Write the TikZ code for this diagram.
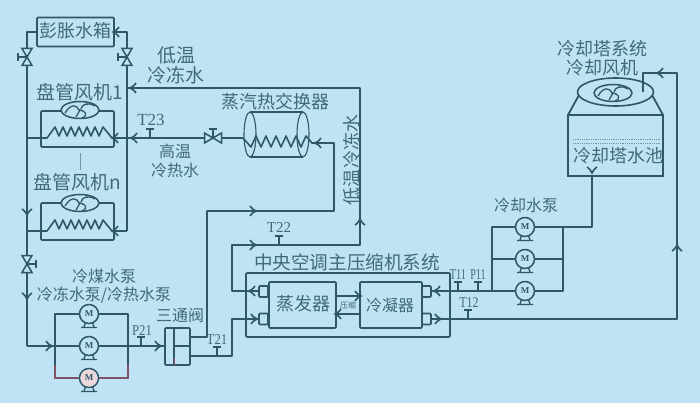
\documentclass[tikz,border=0pt]{standalone}
\usepackage{fontspec}
\usetikzlibrary{calc}
\setmainfont{Liberation Serif}
\newfontfamily\cjk{Noto Sans CJK SC}
\definecolor{bg}{HTML}{BFE3F5}
\definecolor{pipec}{HTML}{2E5866}
\definecolor{txtc}{HTML}{3F6A7A}
\definecolor{redc}{HTML}{A0505F}
\tikzset{
 pipe/.style={draw=pipec,line width=1.6pt,line join=round},
 box/.style={draw=pipec,line width=1.7pt,inner sep=0pt,rounded corners=1pt},
 lbl/.style={text=txtc,inner sep=0pt,font=\cjk},
 s19/.style={lbl,font=\cjk\fontsize{19}{19}\selectfont},
 s18/.style={lbl,font=\cjk\fontsize{18}{18}\selectfont},
 s16/.style={lbl,font=\cjk\fontsize{16}{16}\selectfont},
 tag/.style={text=txtc,inner sep=0pt,font=\fontsize{15}{15}\selectfont},
 chev/.pic={\draw[pipec,line width=1.6pt] (-3,-5) .. controls (-1,-2) and (1,-1) .. (3,0) .. controls (1,1) and (-1,2) .. (-3,5);},
 valve/.pic={\filldraw[pipec,fill=bg,line width=1.5pt] (-10,-5) -- (10,5) -- (10,-5) -- (-10,5) -- cycle;
   \draw[pipec,line width=1.5pt] (0,0) -- (0,-9) (-5,-9) -- (5,-9);},
 pump/.pic={\draw[pipec,line width=1.4pt] (-5,13) -- (-3,7) (5,13) -- (3,7) (-8,13.5) -- (8,13.5);
   \filldraw[pipec,fill=bg,line width=1.5pt] (0,0) circle (9.5);
   \node[text=pipec,inner sep=0pt,font=\bfseries\fontsize{9}{9}\selectfont] {M};},
 fan/.pic={\filldraw[pipec,fill=bg,line width=1.5pt] (0,0) ellipse (19 and 8.5);
   \draw[pipec,line width=1.3pt] (-15,3) .. controls (-9,-7) and (-3,-5) .. (-1,0)
      (15,-4) .. controls (8,-8) and (2,-6) .. (1,-1)
      (2,8) .. controls (9,5) and (5,1) .. (0,0) -- (-4,7);},
 tick/.pic={\draw[pipec,line width=1.2pt] (0,0) -- (0,-9) (-4,-9) -- (4,-9);}
}
\begin{document}
\begin{tikzpicture}[x=1pt,y=-1pt]
\useasboundingbox (0,0) rectangle (700,403);
\fill[bg] (0,0) rectangle (700,403);

% ---- expansion tank and left riser
\node[box,minimum width=77pt,minimum height=29pt] (tank) at (75.5,32) {};
\node[s18] at (75,31) {彭胀水箱};
\coordinate (tl) at (27,32); \coordinate (tr) at (127,32);
\coordinate (lb) at (27,346); \coordinate (rb) at (127,231);
\draw[pipe] (tank.west |- tl) -- (tl) -- (lb);
\draw[pipe] (tank.east |- tr) -- (tr) -- (rb);

% ---- fan coil units
\node[box,minimum width=73pt,minimum height=36pt] (coila) at (77.5,129) {};
\node[box,minimum width=73pt,minimum height=37pt] (coilb) at (77.5,221.5) {};
\foreach \y in {138,231}{
  \draw[pipe] (27,\y) -- (47,\y) -- (55,\y-11) -- (59,\y-2) -- (63,\y-11) -- (67,\y-2) -- (71,\y-11) -- (75,\y-2)
    -- (79,\y-11) -- (83,\y-2) -- (87,\y-11) -- (91,\y-2) -- (95,\y-11) -- (99,\y-2) -- (103,\y-11) -- (112,\y);
  \draw[pipe] (127,\y) -- (112,\y);
}
\path (80,110) pic {fan};
\path (80,203) pic {fan};
\draw[txtc!70,line width=.5pt] (80,153) -- (80,170);
\node[s19,anchor=west] at (36,92) {盘管风机1};
\node[s19,anchor=west] at (33,182) {盘管风机n};

% ---- valves on the left
\path (27,57) pic[rotate=90,xscale=.85] {valve};
\path (127,57) pic[rotate=90,xscale=.85] {valve};
\path (27,264) pic[rotate=-90,xscale=.85] {valve};

% ---- low-temperature line
\coordinate (c1) at (360,88);
\coordinate (c2) at (360,245);
\coordinate (c3) at (232,245);
\coordinate (c4) at (232,291);
\node[box,minimum width=9pt,minimum height=11pt] (es1) at (263.5,291.5) {};
\node[box,minimum width=9pt,minimum height=11pt] (es2) at (263.5,319) {};
\draw[pipe] (127,88) -- (c1) -- (c2) -- (c3) -- (c4) -- (es1.west |- c4);

% ---- heat exchanger
\coordinate (hx1) at (334,143);
\coordinate (hx2) at (334,211);
\coordinate (hx3) at (207,211);
\coordinate (hx4) at (207,337);
\draw[pipec,line width=1.4pt] (250,112) -- (303,112) (250,157) -- (303,157);
\draw[pipec,line width=1.1pt] (250,134.5) ellipse (6 and 22.5) (303,134.5) ellipse (6 and 22.5);
\draw[pipe] (127,138) -- (243,138) -- (251,147) -- (256,136) -- (261,147) -- (266,136) -- (271,147) -- (276,136) -- (281,147)
  -- (286,136) -- (291,147) -- (296,136) -- (301,147) -- (306,136) -- (312,143) -- (hx1) -- (hx2) -- (hx3) -- (hx4) -- (190,337);
\path (213,138) pic[xscale=.85] {valve};
\path (150,138) pic {tick};
\node[tag,font=\fontsize{17}{17}\selectfont] at (151,120) {T23};

% ---- compressor system
\node[box,minimum width=204pt,minimum height=64pt] (sys) at (348,305) {};
\node[box,minimum width=67pt,minimum height=46pt] (evap) at (302.5,305) {};
\node[box,minimum width=62pt,minimum height=46pt] (cond) at (391,305) {};
\node[box,minimum width=9pt,minimum height=11pt] (cs1) at (426.5,291.5) {};
\node[box,minimum width=9pt,minimum height=11pt] (cs2) at (426.5,319) {};
\node[lbl,font=\cjk\fontsize{18.6}{19}\selectfont] at (347,262) {中央空调主压缩机系统};
\node[s18] at (303,304) {蒸发器};
\node[s16] at (390,305) {冷凝器};
\draw[pipe] (evap.east |- 0,296) -- (cond.west |- 0,296);
\draw[pipe] (evap.east |- 0,314) -- (cond.west |- 0,314);
\node[lbl,font=\cjk\fontsize{8}{8}\selectfont] at (348,305) {压缩};

% ---- cold water from valve to evaporator
\coordinate (v1) at (232,356); \coordinate (v2) at (232,319);
\draw[pipe] (190,356) -- (v1) -- (v2) -- (es2.west |- v2);
\path (217,356) pic {tick};
\node[tag] at (217,340) {\scalebox{.85}[1]{T21}};
\path (279,245) pic {tick};
\node[tag] at (279,228) {T22};

% ---- chilled water pumps
\node[minimum size=19pt,inner sep=0pt] (p1) at (89,314) {};
\node[minimum size=19pt,inner sep=0pt] (p2) at (89,346) {};
\node[minimum size=19pt,inner sep=0pt] (p3) at (89,378) {};
\draw[pipe] (lb) -- (165,346);
\draw[pipe] (55,314) rectangle (128,378);
\draw[redc,line width=1.1pt,opacity=.7] (55,365) -- (55,378) -- (128,378) -- (128,365);
\path (p1) pic {pump}; \path (p2) pic {pump}; \path (p3) pic {pump};
\fill[redc!22!white] (p3) circle (8.5);
\node[text=pipec,inner sep=0pt,font=\bfseries\fontsize{9}{9}\selectfont] at (p3) {M};
\path (141,346) pic {tick};
\node[tag] at (142,331) {\scalebox{.85}[1]{P21}};
\node[s16] at (104,276) {冷煤水泵};
\node[s16] at (104,295) {冷冻水泵/冷热水泵};
\node[s16] at (180,316) {三通阀};

% ---- three-way valve
\node[box,fill=bg,minimum width=25pt,minimum height=37pt] (tw) at (177.5,346.5) {};
\draw[pipec,line width=1.3pt] (174,328) -- (174,365) (174,346) -- (190,346);
\draw[redc,line width=1pt] (174,358) -- (174,365);

% ---- condenser water
\coordinate (k1) at (492,291); \coordinate (k2) at (492,227);
\coordinate (k3) at (563,227); \coordinate (k4) at (563,291);
\coordinate (k5) at (592,227); \coordinate (k6) at (592,176);
\coordinate (r1) at (677,319); \coordinate (r2) at (677,73);
\coordinate (r3) at (643,73); \coordinate (r4) at (643,92);
\draw[pipe] (cs1.east |- k1) -- (k1) -- (k2) -- (k3) -- (k4) -- (k1);
\draw[pipe] (k1 |- 0,259) -- (k3 |- 0,259);
\draw[pipe] (k3) -- (k5) -- (k6);
\draw[pipe] (cs2.east |- r1) -- (r1) -- (r2) -- (r3) -- (r4);
\path (525,227) pic {pump}; \path (525,259) pic {pump}; \path (525,291) pic {pump};
\path (458,291) pic {tick}; \path (478,291) pic {tick}; \path (468,319) pic {tick};
\node[tag] at (458,275) {\scalebox{.68}[1]{T11}};
\node[tag] at (478,275) {\scalebox{.68}[1]{P11}};
\node[tag] at (469,303) {\scalebox{.8}[1]{T12}};
\node[s16] at (526,205) {冷却水泵};

% ---- cooling tower
\draw[pipec,line width=1.8pt] (568,115) rectangle (663,176);
\draw[pipec,line width=1.8pt] (568,115) -- (579,95) (663,115) -- (652,95);
\draw[pipec,line width=1.6pt] (615.5,92) ellipse (38 and 14);
\path (613,93) pic {fan};
\draw[pipe] (r3) -- (r4);
\foreach \y in {139,143}\draw[txtc!70,line width=.8pt,densely dotted] (573,\y) -- (660,\y);
\node[s18] at (618,156) {冷却塔水池};
\node[s18] at (602,49) {冷却塔系统};
\node[s18] at (602,68) {冷却风机};

% ---- labels
\node[s19] at (176,55) {低温};
\node[s19] at (176,75) {冷冻水};
\node[s16] at (175,151) {高温};
\node[s16] at (175,170) {冷热水};
\node[s18] at (275,102) {蒸汽热交换器};
\node[s18,rotate=90] at (352,160) {低温冷冻水};

% ---- arrowheads
\path (133,88) pic[rotate=180] {chev};
\path (134,138) pic[rotate=180] {chev};
\path (115,138) pic[rotate=180] {chev};
\path (115,231) pic[rotate=180] {chev};
\path (116,32) pic[rotate=180] {chev};
\path (27,212) pic[rotate=-90] {chev};
\path (27,296) pic[rotate=-90] {chev};
\path (49,346) pic {chev};
\path (158,346) pic {chev};
\path (318,143) pic[rotate=180] {chev};
\path (253,211) pic {chev};
\path (360,222) pic[rotate=90] {chev};
\path (253,245) pic {chev};
\path (252,291) pic[rotate=180] {chev};
\path (254,319) pic {chev};
\path (358,296) pic {chev};
\path (338,314) pic[rotate=180] {chev};
\path (437,291) pic[rotate=180] {chev};
\path (438,319) pic {chev};
\path (592,170) pic[rotate=-90] {chev};
\path (677,248) pic[rotate=90] {chev};
\path (660,73) pic[rotate=180] {chev};
\end{tikzpicture}
\end{document}
